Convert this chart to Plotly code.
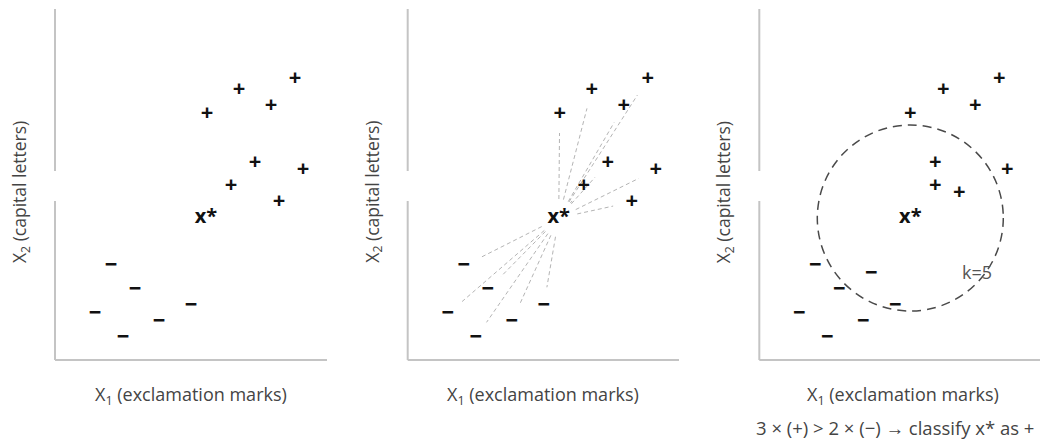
import math
import plotly.graph_objects as go

# ---- data (units ~ pixels of the original plot area) ----
query_x = 151
query_y = 142

plus_x_a = [152, 184, 216, 240, 200, 248, 176, 224]
plus_y_a = [246, 270, 254, 281, 197, 190, 174, 158]
minus_x_a = [56, 80, 40, 68, 104, 136]
minus_y_a = [94, 70, 46, 22, 38, 54]

plus_x_c = [151, 184, 216, 240, 248, 176, 176, 200]
plus_y_c = [246, 270, 254, 281, 190, 197, 174, 167]
minus_x_c = [56, 80, 40, 68, 104, 136, 112]
minus_y_c = [94, 70, 46, 22, 38, 54, 86]

k_label = "k=5"
k_radius = 93

x_title = "X<sub>1</sub> (exclamation marks)"
y_title = "X<sub>2</sub> (capital letters)"
caption = "3 × (+) > 2 × (−) → classify x* as +"

# ---- layout geometry (page has an 8px body margin) ----
OFF = 8
W, H = 1048 - OFF, 439 - OFF
FONT = "Open Sans, Noto Sans, sans-serif"
panels = [(55 - OFF, 327 - OFF), (407.7 - OFF, 679 - OFF), (759.3 - OFF, 1047 - OFF)]
y_top_px, y_bot_px = 9 - OFF, 360 - OFF
gap_top_px, gap_bot_px = 171 - OFF, 201 - OFF

fig = go.Figure()


def add_points(i, px, py, mx, my):
    xa = "x" if i == 1 else f"x{i}"
    ya = "y" if i == 1 else f"y{i}"
    fig.add_trace(go.Scatter(x=px, y=py, mode="text", text=["<b>+</b>"] * len(px),
                             textfont=dict(size=22, color="#111", family=FONT),
                             xaxis=xa, yaxis=ya, showlegend=False, hoverinfo="skip"))
    fig.add_trace(go.Scatter(x=mx, y=my, mode="text", text=["<b>−</b>"] * len(mx),
                             textfont=dict(size=22, color="#111", family=FONT),
                             xaxis=xa, yaxis=ya, showlegend=False, hoverinfo="skip"))
    fig.add_trace(go.Scatter(x=[query_x], y=[query_y], mode="text", text=["<b>x*</b>"],
                             textfont=dict(size=20, color="#111", family=FONT),
                             xaxis=xa, yaxis=ya, showlegend=False, hoverinfo="skip"))


# panel 2 dashed neighbour lines (shortened at both ends)
lx, ly = [], []
for px, py in zip(plus_x_a + minus_x_a, plus_y_a + minus_y_a):
    dx, dy = px - query_x, py - query_y
    d = math.hypot(dx, dy)
    s0, s1 = 19 / d, 19 / d
    if s0 + s1 >= 0.95:
        continue
    lx += [query_x + dx * s0, px - dx * s1, None]
    ly += [query_y + dy * s0, py - dy * s1, None]
fig.add_trace(go.Scatter(x=lx, y=ly, mode="lines",
                         line=dict(color="#b4b4b4", width=1, dash="4px,3px"),
                         xaxis="x2", yaxis="y2", showlegend=False, hoverinfo="skip"))

add_points(1, plus_x_a, plus_y_a, minus_x_a, minus_y_a)
add_points(2, plus_x_a, plus_y_a, minus_x_a, minus_y_a)
add_points(3, plus_x_c, plus_y_c, minus_x_c, minus_y_c)

shapes = []
annotations = []
y_dom = [(H - y_bot_px) / H, (H - y_top_px) / H]
yh = y_bot_px - y_top_px
for i, (x0, x1) in enumerate(panels, start=1):
    sfx = "" if i == 1 else str(i)
    fig.update_layout(**{
        f"xaxis{sfx}": dict(domain=[x0 / W, x1 / W], range=[0, x1 - x0],
                            showgrid=False, zeroline=False, showticklabels=False,
                            showline=False, fixedrange=True),
        f"yaxis{sfx}": dict(domain=y_dom, range=[0, yh], anchor=f"x{sfx}",
                            showgrid=False, zeroline=False, showticklabels=False,
                            showline=False, fixedrange=True),
    })
    xd, yd = f"x{sfx} domain", f"y{sfx} domain"
    line = dict(color="#c4c4c4", width=2)
    shapes.append(dict(type="line", xref=xd, yref=yd, x0=0, x1=1, y0=0, y1=0, line=line))
    shapes.append(dict(type="line", xref=xd, yref=yd, x0=0, x1=0, y0=0,
                       y1=(y_bot_px - gap_bot_px) / yh, line=line))
    shapes.append(dict(type="line", xref=xd, yref=yd, x0=0, x1=0,
                       y0=(y_bot_px - gap_top_px) / yh, y1=1, line=line))
    cx = (x0 + x1) / 2
    annotations.append(dict(text=x_title, x=cx / W, y=(H - (395 - OFF)) / H, xref="paper",
                            yref="paper", showarrow=False, xanchor="center", yanchor="middle",
                            font=dict(size=18, color="#444", family=FONT)))
    annotations.append(dict(text=y_title, x=(x0 - 35) / W, y=(H - (192 - OFF)) / H,
                            xref="paper", yref="paper", showarrow=False, textangle=-90,
                            xanchor="center", yanchor="middle",
                            font=dict(size=17.5, color="#444", family=FONT)))

# circle in panel 3
shapes.append(dict(type="circle", xref="x3", yref="y3",
                   x0=query_x - k_radius, x1=query_x + k_radius,
                   y0=query_y - k_radius, y1=query_y + k_radius,
                   line=dict(color="#4a4a4a", width=1.5, dash="9px,6px")))

annotations.append(dict(text=k_label, x=218, y=88, xref="x3", yref="y3", showarrow=False,
                        font=dict(size=18, color="#555", family=FONT)))
annotations.append(dict(text=caption, x=(1036 - OFF) / W, y=(H - (427 - OFF)) / H,
                        xref="paper", yref="paper",
                        showarrow=False, xanchor="right", yanchor="middle",
                        font=dict(size=18.5, color="#444", family=FONT)))

fig.update_layout(width=W, height=H, margin=dict(l=0, r=0, t=0, b=0),
                  paper_bgcolor="white", plot_bgcolor="white",
                  shapes=shapes, annotations=annotations)

fig.write_html("out.html")
